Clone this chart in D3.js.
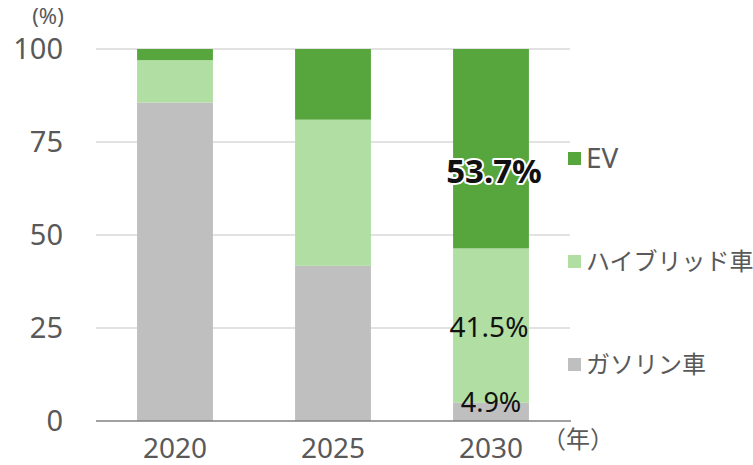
<!DOCTYPE html>
<html><head><meta charset="utf-8">
<script src="https://cdn.jsdelivr.net/npm/d3@7"></script>
<style>
html,body{margin:0;padding:0;background:#fff;}
text{font-family:"Noto Sans","Noto Sans CJK JP",sans-serif;}
</style></head>
<body><svg id="c" width="753" height="465"></svg>
<script>
const years = ["2020","2025","2030"];
const seriesNames = ["ガソリン車","ハイブリッド車","EV"];
const gasoline = [85.6, 41.7, 4.9];
const hybrid = [11.4, 39.3, 41.5];
const ev = [3.0, 19.0, 53.7];
const yTicks = [0,25,50,75,100];
const colors = ["#bfbfbf","#b1dea3","#56a63d"];
const labels2030 = ["4.9%","41.5%","53.7%"];

const svg = d3.select("#c");
const x = d3.scaleBand().domain(years).range([96,570]).paddingInner(0.52).paddingOuter(0.26);
const y = d3.scaleLinear().domain([0,100]).range([421,49]);

const rows = years.map((yr,i)=>({year:yr,"ガソリン車":gasoline[i],"ハイブリッド車":hybrid[i],"EV":ev[i]}));
const stacked = d3.stack().keys(seriesNames)(rows);

// gridlines
svg.append("g").selectAll("line").data(yTicks.filter(t=>t>0)).join("line")
  .attr("x1",96).attr("x2",570).attr("y1",d=>y(d)).attr("y2",d=>y(d))
  .attr("stroke","#d9d9d9").attr("stroke-width",1.5);

// bars
svg.append("g").selectAll("g").data(stacked).join("g")
  .attr("fill",(d,i)=>colors[i])
  .selectAll("rect").data(d=>d).join("rect")
  .attr("x",d=>x(d.data.year)).attr("width",x.bandwidth())
  .attr("y",d=>y(Math.min(100,d[1]))).attr("height",d=>y(d[0])-y(Math.min(100,d[1])));

// axis line
svg.append("line").attr("x1",96).attr("x2",571).attr("y1",y(0)).attr("y2",y(0))
  .attr("stroke","#808080").attr("stroke-width",1.5);

// y labels
svg.append("g").selectAll("text").data(yTicks).join("text")
  .attr("x",63).attr("y",d=>y(d)).attr("dy","0.36em").attr("text-anchor","end")
  .attr("font-size",29).attr("fill","#595959").text(d=>d);
svg.append("text").attr("x",48).attr("y",24).attr("text-anchor","middle")
  .attr("font-size",22).attr("font-family","Liberation Sans").attr("fill","#595959").text("(%)");

// x labels
svg.append("g").selectAll("text").data(years).join("text")
  .attr("x",d=>x(d)+x.bandwidth()/2).attr("y",458).attr("text-anchor","middle")
  .attr("font-size",28).attr("fill","#595959").text(d=>d);
svg.append("text").attr("x",578).attr("y",448).attr("text-anchor","middle")
  .attr("font-size",24).attr("fill","#595959").attr("font-family","Noto Sans CJK JP").text("（年）");

// 2030 data labels
const cx = x("2030")+x.bandwidth()/2;
const s30 = stacked.map(s=>s[2]);
svg.append("text").attr("x",cx).attr("y",y(s30[0][1])+9).attr("text-anchor","middle")
  .attr("font-size",27).attr("fill","#111").text(labels2030[0]);
svg.append("text").attr("x",cx-2).attr("y",337).attr("text-anchor","middle")
  .attr("font-size",28).attr("fill","#111").text(labels2030[1]);
svg.append("text").attr("x",cx+3).attr("y",183).attr("text-anchor","middle")
  .attr("font-size",33).attr("font-weight","bold").attr("fill","#111")
  .attr("stroke","#fff").attr("stroke-width",4).attr("paint-order","stroke").attr("stroke-linejoin","round")
  .text(labels2030[2]);

// legend
const legendItems = [{name:"EV",c:colors[2],yy:158},{name:"ハイブリッド車",c:colors[1],yy:261},{name:"ガソリン車",c:colors[0],yy:364}];
const lg = svg.append("g").selectAll("g").data(legendItems).join("g");
lg.append("rect").attr("x",568).attr("y",d=>d.yy-6).attr("width",13).attr("height",13).attr("fill",d=>d.c);
lg.append("text").attr("x",586).attr("y",d=>d.yy).attr("dy","0.36em")
  .attr("font-size",d=>d.name==="EV"?28:24).attr("fill","#595959")
  .attr("font-family","Noto Sans CJK JP").text(d=>d.name);
</script></body></html>
